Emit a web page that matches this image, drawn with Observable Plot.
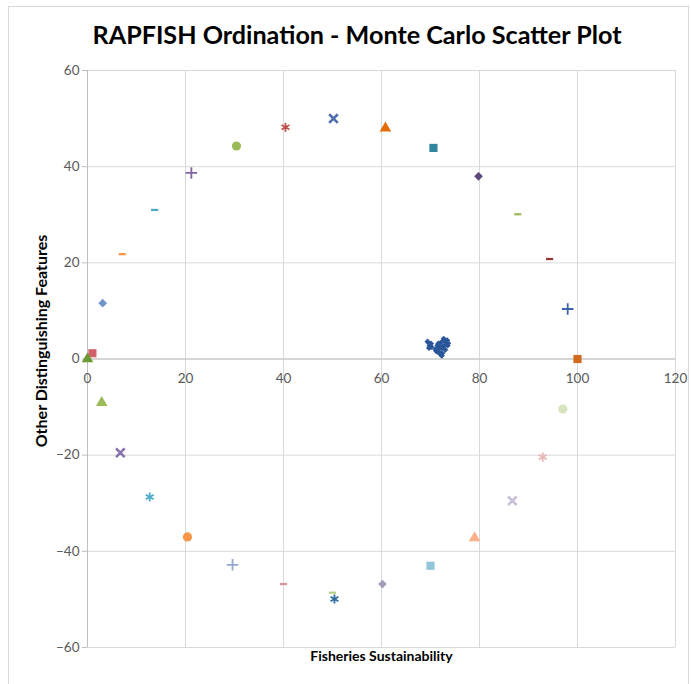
<!DOCTYPE html>
<html><head><meta charset="utf-8">
<script src="https://cdn.jsdelivr.net/npm/d3@7"></script>
<script src="https://cdn.jsdelivr.net/npm/@observablehq/plot@0.6"></script>
<style>
body{margin:0;background:#fff;font-family:Lato,"Open Sans",sans-serif;width:691px;height:684px;overflow:hidden;position:relative;}
#frame{position:absolute;left:8px;top:6px;width:681px;height:690px;border:1px solid #d9d9d9;box-sizing:border-box;}
#title{position:absolute;left:357px;top:18px;white-space:nowrap;font-weight:bold;font-size:25px;line-height:32px;color:#000;transform-origin:center;}
#chart{position:absolute;left:0;top:60px;}
</style></head>
<body>
<div id="frame"></div>
<div id="title">RAPFISH Ordination - Monte Carlo Scatter Plot</div>
<div id="chart"></div>
<script>
// ---- data ----
const xTicks = [0, 20, 40, 60, 80, 100, 120];
const yTicks = [-60, -40, -20, 0, 20, 40, 60];
const xLabel = "Fisheries Sustainability";
const yLabel = "Other Distinguishing Features";

// reference (anchor) points around the ordination circle
const anchorX = [50.2, 40.4, 30.4, 21.2, 13.7, 7.1, 3.1, 1.0, 0.0, 2.9, 6.7, 12.7, 20.4, 29.6, 40.0, 50.0, 50.4, 60.2, 70.0, 79.0, 86.7, 92.9, 97.0, 100.0, 98.0, 94.3, 87.8, 79.8, 70.6, 60.8];
const anchorY = [50.0, 48.2, 44.3, 38.7, 31.0, 21.8, 11.6, 1.2, 0.0, -9.1, -19.5, -28.7, -37.0, -42.8, -46.8, -48.6, -49.9, -46.8, -43.0, -37.2, -29.5, -20.4, -10.4, 0.0, 10.4, 20.8, 30.1, 38.0, 43.9, 48.0];

// Monte Carlo scatter (fishery) points
const mcX = [69.4, 69.8, 70.1, 69.7, 70.2, 71.0, 71.4, 71.6, 72.0, 72.2, 72.4, 72.6, 72.9, 73.2, 73.5, 73.0, 72.3, 71.8, 72.7, 73.4, 71.2, 72.5, 73.6, 72.0, 71.6];
const mcY = [3.6, 2.8, 3.2, 2.3, 2.5, 2.0, 2.8, 1.5, 3.3, 2.2, 1.2, 3.8, 2.8, 3.5, 2.8, 1.9, 0.7, 2.4, 4.2, 3.9, 1.6, 2.6, 3.3, 1.0, 3.2];

// ---- styles (marker, colour per anchor series) ----
const anchorStyle = [
  ["times","#4F6FAE"],["asterisk","#C0504D"],["circle","#9BBB59"],["plus","#8064A2"],["dash","#4BACC6"],["dash","#F79646"],
  ["diamond","#6F94CC"],["square","#D0626A"],["triangle","#6C9A34"],["triangle","#9BBB59"],["times","#8872AE"],["asterisk","#4BACC6"],
  ["circle","#F79646"],["plus","#95A8D4"],["dash","#D99694"],["dash","#B8CF88"],["asterisk","#2F6E9E"],["diamond","#A99DBE"],
  ["square","#93C6DB"],["triangle","#FAB08A"],["times","#C8C0D8"],["asterisk","#E6B9B8"],["circle","#D7E4BD"],["square","#D2691E"],
  ["plus","#3F66A8"],["dash","#953735"],["dash","#9BBB59"],["diamond","#5F497A"],["square","#31859C"],["triangle","#E46C0A"]
];

const dash = {draw(ctx, size){ const w = Math.sqrt(size)*0.95, h = Math.max(2, w*0.32);
  ctx.moveTo(-w/2,-h/2); ctx.lineTo(w/2,-h/2); ctx.lineTo(w/2,h/2); ctx.lineTo(-w/2,h/2); ctx.closePath(); }};
const rhombus = {draw(ctx, size){ const s = Math.sqrt(size)*0.6;
  ctx.moveTo(0,-s); ctx.lineTo(s,0); ctx.lineTo(0,s); ctx.lineTo(-s,0); ctx.closePath(); }};

const anchors = anchorX.map((x,i)=>({x, y: anchorY[i], sym: anchorStyle[i][0], color: anchorStyle[i][1]}));
const mc = mcX.map((x,i)=>({x, y: mcY[i]}));

const fillSyms = {circle:["circle",4.6], square:["square",4.6], triangle:["triangle",4.3], diamond:[rhombus,4.1], dash:[dash,4.2]};
const strokeSyms = {plus:["plus",3.8,1.8], times:["times",4.0,2.6], asterisk:["asterisk",4.3,1.8]};

const marks = [
  Plot.gridX(xTicks, {stroke:"#d9d9d9", strokeOpacity:1}),
  Plot.gridY(yTicks, {stroke:"#d9d9d9", strokeOpacity:1}),
  Plot.ruleX([0], {stroke:"#bfbfbf"}),
  Plot.ruleY([0], {stroke:"#bfbfbf"}),
  Plot.axisY(yTicks, {tickSize:5, tickPadding:3, stroke:"#bfbfbf", fill:"#595959", fontSize:13.5, label:null}),
  Plot.text(xTicks, {x:d=>d, y:0, dy:20, text:d=>String(d), fill:"#595959", fontSize:13.5}),
  Plot.text([xLabel], {frameAnchor:"bottom", dy:13, text:d=>d, fontWeight:"bold", fontSize:14, fill:"#000"}),
  Plot.text([yLabel], {frameAnchor:"left", rotate:-90, dx:-46, dy:-18, textAnchor:"middle", text:d=>d, fontWeight:"bold", fontSize:16, fill:"#000"}),
  Plot.dot(mc, {x:"x", y:"y", symbol:rhombus, r:2.9, fill:"#2B579A", stroke:"none"})
];
for (const [k,[sym,r]] of Object.entries(fillSyms)) {
  marks.push(Plot.dot(anchors.filter(d=>d.sym===k), {x:"x", y:"y", symbol:sym, r, fill:d=>d.color, stroke:"none"}));
}
for (const [k,[sym,r,sw]] of Object.entries(strokeSyms)) {
  marks.push(Plot.dot(anchors.filter(d=>d.sym===k), {x:"x", y:"y", symbol:sym, r, stroke:d=>d.color, fill:"none", strokeWidth:sw}));
}

const chart = Plot.plot({
  width:691, height:624,
  marginLeft:87, marginRight:16, marginTop:10, marginBottom:37,
  style:{fontFamily:"Lato, 'Open Sans', sans-serif", background:"transparent", overflow:"visible"},
  x:{domain:[0,120], axis:null},
  y:{domain:[-60,60], axis:null},
  color:{type:"identity"},
  marks
});
document.getElementById("chart").appendChild(chart);

// fit title width to the reference span
const t = document.getElementById("title");
const w = t.getBoundingClientRect().width;
t.style.transform = `translateX(-50%) scaleX(${529 / w})`;
</script>
</body></html>
